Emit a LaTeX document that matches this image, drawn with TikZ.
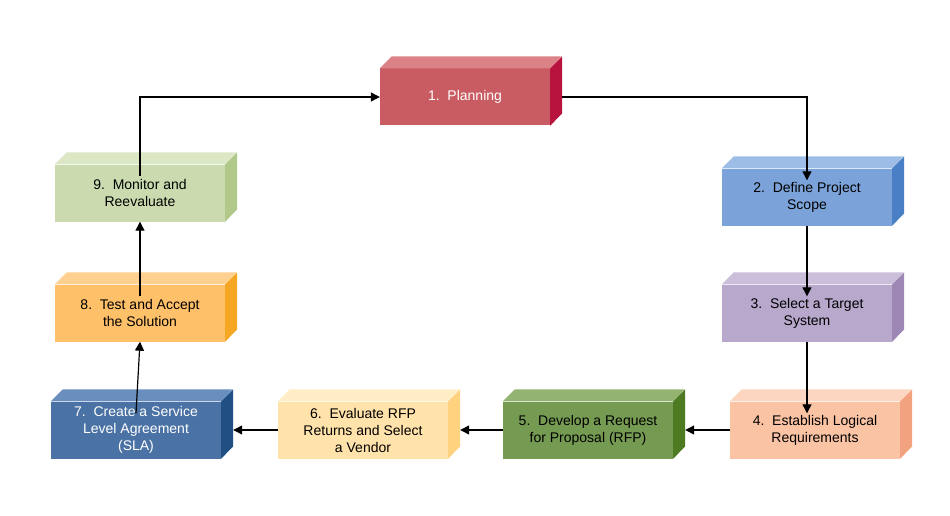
\documentclass[tikz,border=0pt]{standalone}
\usepackage{fontspec}
\setmainfont{Liberation Sans}
\usetikzlibrary{arrows.meta}
\definecolor{fr1}{HTML}{C95B63}\definecolor{tp1}{HTML}{DA8286}\definecolor{sd1}{HTML}{B8123F}
\definecolor{fr2}{HTML}{7BA3D9}\definecolor{tp2}{HTML}{9DBDE6}\definecolor{sd2}{HTML}{4A7FC6}
\definecolor{fr3}{HTML}{B8A8CC}\definecolor{tp3}{HTML}{CBBEDA}\definecolor{sd3}{HTML}{9D87B5}
\definecolor{fr4}{HTML}{FAC3A4}\definecolor{tp4}{HTML}{FCD6C0}\definecolor{sd4}{HTML}{F2A27F}
\definecolor{fr5}{HTML}{759A52}\definecolor{tp5}{HTML}{93B470}\definecolor{sd5}{HTML}{4E7A22}
\definecolor{fr6}{HTML}{FFE3AA}\definecolor{tp6}{HTML}{FFEDC6}\definecolor{sd6}{HTML}{FFD27F}
\definecolor{fr7}{HTML}{4A72A4}\definecolor{tp7}{HTML}{6A8FBE}\definecolor{sd7}{HTML}{1F4F83}
\definecolor{fr8}{HTML}{FFC06A}\definecolor{tp8}{HTML}{FFD08F}\definecolor{sd8}{HTML}{F5A623}
\definecolor{fr9}{HTML}{CBDBAF}\definecolor{tp9}{HTML}{DBE7C5}\definecolor{sd9}{HTML}{B0C88A}
\tikzset{
  stepnode/.style={minimum width=170pt, minimum height=57pt, inner sep=0pt, align=center, font=\fontsize{14}{17}\selectfont},
  flow/.style={-{Triangle[length=9pt,width=9pt]}, line width=1.2pt},
}
% step box: name, centre, colour index, text colour, label
\newcommand\stepbox[5]{%
  \node[stepnode, fill=fr#3, text=#4] (#1) at (#2) {#5};
  \fill[tp#3] (#1.north west) -- ++(12,-12) -- ++(170,0) -- (#1.north east) -- cycle;
  \fill[sd#3] (#1.north east) -- ++(12,-12) -- ++(0,57) -- (#1.south east) -- cycle;
}
\begin{document}
\begin{tikzpicture}[x=1pt,y=-1pt]
  \useasboundingbox (0,0) rectangle (950,516);
  \stepbox{s1}{465,97}{1}{white}{1.\ \ Planning}
  \stepbox{s2}{807,197}{2}{black}{2.\ \ Define Project\\Scope}
  \stepbox{s3}{807,313}{3}{black}{3.\ \ Select a Target\\System}
  \stepbox{s4}{815,430}{4}{black}{4.\ \ Establish Logical\\Requirements}
  \stepbox{s5}{588,430}{5}{black}{5.\ \ Develop a Request\\for Proposal (RFP)}
  \stepbox{s6}{363,430}{6}{black}{6.\ \ Evaluate RFP\\Returns and Select\\a Vendor}
  \stepbox{s7}{136,430}{7}{white}{7.\ \ Create a Service\\Level Agreement\\(SLA)}
  \stepbox{s8}{140,313}{8}{black}{8.\ \ Test and Accept\\the Solution}
  \stepbox{s9}{140,193}{9}{black}{9.\ \ Monitor and\\Reevaluate}

  \draw[flow] ([yshift=-12pt]s9.north) |- (s1.west);
  \draw[flow] ([xshift=12pt]s1.east) -| ([yshift=-12pt]s2.north);
  \draw[flow] (s2.south) -- ([yshift=-12pt]s3.north);
  \draw[flow] (s3.south) -- ([yshift=-12pt,xshift=-8pt]s4.north);
  \draw[flow] (s4.west) -- ([xshift=12pt]s5.east);
  \draw[flow] (s5.west) -- ([xshift=12pt]s6.east);
  \draw[flow] (s6.west) -- ([xshift=12pt]s7.east);
  \draw[flow] ([yshift=-12pt]s7.north) -- (s8.south);
  \draw[flow] ([yshift=-12pt]s8.north) -- (s9.south);
\end{tikzpicture}
\end{document}
